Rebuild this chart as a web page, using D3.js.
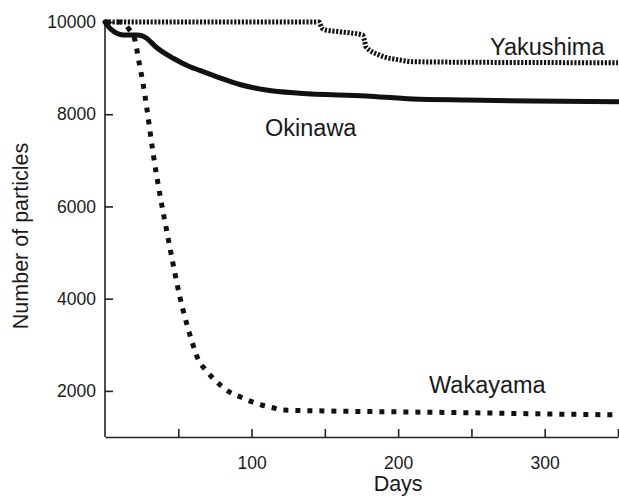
<!DOCTYPE html>
<html><head><meta charset="utf-8">
<script src="https://cdn.jsdelivr.net/npm/d3@7"></script>
<style>
body{margin:0;background:#fff}
text{font-family:"Liberation Sans",Arial,Helvetica,sans-serif;fill:#1a1a1a}
</style></head>
<body><svg id="chart" width="619" height="497"></svg>
<script>
// ---- data ----
const okinawaDays   = [0, 2, 4.6, 8, 12.5, 21.6, 25.9, 28.4, 35.2, 46.5, 57.9, 64.7, 71.5, 78.3, 91.9, 110, 132.8, 178.2, 209.7, 246.3, 291.4, 350];
const okinawaValues = [10000, 9913, 9827, 9755, 9718, 9718, 9696, 9646, 9447, 9213, 9031, 8950, 8870, 8790, 8645, 8525, 8454, 8395, 8330, 8308, 8287, 8272];

const wakayamaDays   = [0, 10, 16.3, 20.4, 23.2, 25.9, 28.4, 32.7, 37.5, 42, 46.3, 51.1, 54.5, 59, 64, 68.8, 73.5, 79.5, 85.6, 92.4, 99.9, 106.9, 114.4, 121.2, 150, 200, 250, 300, 350];
const wakayamaValues = [10000, 10000, 9848, 9610, 9132, 8677, 8157, 7180, 6248, 5489, 4773, 4036, 3602, 3103, 2654, 2453, 2280, 2106, 1961, 1868, 1766, 1694, 1635, 1585, 1565, 1545, 1525, 1500, 1480];

const yakushimaDays   = [0, 146, 148, 150, 160, 175.7, 177, 178, 187, 201, 210, 260, 350];
const yakushimaValues = [10000, 10000, 9870, 9830, 9790, 9718, 9600, 9464, 9284, 9176, 9139, 9125, 9117];

const xTicks = [50, 100, 150, 200, 250, 300, 350];
const xTickLabels = [100, 200, 300];
const yTicks = [2000, 4000, 6000, 8000, 10000];

const labels = ["Yakushima", "Okinawa", "Wakayama"];

// ---- layout ----
const svg = d3.select("#chart");
const x = d3.scaleLinear().domain([0, 350]).range([105, 618]);
const y = d3.scaleLinear().domain([1000, 10000]).range([437, 22]);

// axes
const yAxis = d3.axisLeft(y).tickValues(yTicks).tickSizeInner(-8).tickSizeOuter(0).tickPadding(9).tickFormat(d3.format("d"));
const xAxis = d3.axisBottom(x).tickValues(xTicks).tickSizeInner(-8).tickSizeOuter(0).tickPadding(20)
  .tickFormat(d => xTickLabels.includes(d) ? String(d) : "");

const gy = svg.append("g").attr("transform", "translate(105,0)").call(yAxis);
const gx = svg.append("g").attr("transform", "translate(0,437)").call(xAxis);
[gx, gy].forEach(g => {
  g.select(".domain").attr("stroke", "#222").attr("stroke-width", 1.6);
  g.selectAll(".tick line").attr("stroke", "#222").attr("stroke-width", 1.6);
  g.selectAll(".tick text").attr("font-size", 17.5).attr("fill", "#1a1a1a")
    .attr("font-family", "Liberation Sans, Arial, sans-serif");
});
gy.select(".domain").attr("d", `M0,${y(10000)}V${y(1000)}`);

// axis titles
svg.append("text").attr("x", x(200)).attr("y", 491).attr("text-anchor", "middle")
  .attr("font-size", 21.5).text("Days");
svg.append("text").attr("transform", `translate(28,${236}) rotate(-90)`).attr("text-anchor", "middle")
  .attr("font-size", 21.5).text("Number of particles");

// lines
const line = d3.line().x(d => x(d[0])).y(d => y(d[1])).curve(d3.curveMonotoneX);
const series = [
  {days: wakayamaDays, vals: wakayamaValues, width: 5, dash: "5,7", cap: "butt"},
  {days: yakushimaDays, vals: yakushimaValues, width: 5, dash: "2.2,1.6", cap: "butt"},
  {days: okinawaDays, vals: okinawaValues, width: 5, dash: null, cap: "round"}
];
series.forEach(s => {
  const pts = s.days.map((d, i) => [d, s.vals[i]]);
  svg.append("path").attr("d", line(pts)).attr("fill", "none").attr("stroke", "#111")
    .attr("stroke-width", s.width).attr("stroke-dasharray", s.dash).attr("stroke-linecap", s.cap)
    .attr("stroke-linejoin", "round");
});

// annotations
svg.append("text").attr("x", 490).attr("y", 55).attr("font-size", 23.5).text(labels[0]);
svg.append("text").attr("x", 265).attr("y", 136).attr("font-size", 23.5).text(labels[1]);
svg.append("text").attr("x", 429).attr("y", 393).attr("font-size", 23.5).text(labels[2]);
</script></body></html>
